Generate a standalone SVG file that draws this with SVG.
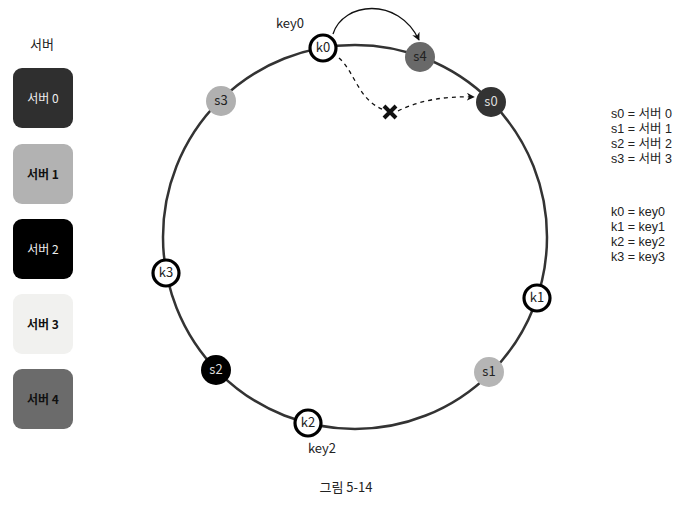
<svg xmlns="http://www.w3.org/2000/svg" width="694" height="521" viewBox="0 0 694 521">
<defs>
<marker id="ah" viewBox="0 0 10 10" refX="9" refY="5" markerWidth="8" markerHeight="8" orient="auto" markerUnits="userSpaceOnUse"><path d="M0,0 L10,5 L0,10 L3,5 Z" fill="#111"/></marker>
</defs>
<style>
text{font-family:"Noto Sans CJK KR","Noto Sans",sans-serif;}
.lbl{font-size:13px;fill:#222;}
.box text{font-size:12px;text-anchor:middle;}
.key circle{fill:#fff;stroke:#000;stroke-width:3.2;}
.key text{font-size:13px;fill:#222;text-anchor:middle;}
.srv text{font-size:13px;text-anchor:middle;}
.leg text{font-family:"Liberation Sans","Noto Sans CJK KR",sans-serif;font-size:12.5px;fill:#222;}
</style>
<rect width="694" height="521" fill="#fff"/>
<text class="lbl" x="42" y="49" text-anchor="middle">서버</text>
<g id="box0" class="box"><rect x="13" y="68" width="60" height="60" rx="9" fill="#2f2f2f"/><text x="43" y="103" fill="#eee">서버 0</text></g>
<g id="box1" class="box"><rect x="13" y="144" width="60" height="60" rx="9" fill="#b2b2b2"/><text x="43" y="179" fill="#111" font-weight="bold">서버 1</text></g>
<g id="box2" class="box"><rect x="13" y="219" width="60" height="60" rx="9" fill="#000"/><text x="43" y="254" fill="#eee">서버 2</text></g>
<g id="box3" class="box"><rect x="13" y="294" width="60" height="60" rx="9" fill="#f1f1ef"/><text x="43" y="329" fill="#111" font-weight="bold">서버 3</text></g>
<g id="box4" class="box"><rect x="13" y="369" width="60" height="60" rx="9" fill="#6b6b6b"/><text x="43" y="404" fill="#111" font-weight="bold">서버 4</text></g>
<g id="connectors" fill="none">
<circle cx="355" cy="237" r="192" stroke="#333" stroke-width="2.5"/>
<path d="M333,34 C343,2 398,-4 419,40" stroke="#111" stroke-width="1.3" marker-end="url(#ah)"/>
<path d="M339,58 C355,72 358,100 384,110" stroke="#111" stroke-width="1.3" stroke-dasharray="4,4"/>
<path d="M398,111 C420,100 445,96 474,97" stroke="#111" stroke-width="1.3" stroke-dasharray="4,4" marker-end="url(#ah)"/>
<path d="M384,106 L396,118 M396,106 L384,118" stroke="#111" stroke-width="4"/>
</g>
<g id="s0" class="srv"><circle cx="491" cy="102" r="15" fill="#333"/><text x="491" y="106" fill="#ddd">s0</text></g>
<g id="s1" class="srv"><circle cx="489" cy="372" r="15" fill="#b5b5b5"/><text x="489" y="376" fill="#222">s1</text></g>
<g id="s2" class="srv"><circle cx="216" cy="370" r="15" fill="#000"/><text x="216" y="374" fill="#ddd">s2</text></g>
<g id="s3" class="srv"><circle cx="221" cy="101" r="15" fill="#b0b0b0"/><text x="221" y="105" fill="#222">s3</text></g>
<g id="s4" class="srv"><circle cx="420" cy="57" r="15" fill="#696969"/><text x="420" y="61" fill="#222">s4</text></g>
<g id="k0" class="key"><circle cx="323" cy="48" r="13"/><text x="323" y="52">k0</text></g>
<g id="k1" class="key"><circle cx="537" cy="298" r="13"/><text x="537" y="302">k1</text></g>
<g id="k2" class="key"><circle cx="308" cy="423" r="13"/><text x="308" y="427">k2</text></g>
<g id="k3" class="key"><circle cx="166" cy="273" r="13"/><text x="166" y="277">k3</text></g>
<text class="lbl" x="290" y="28" text-anchor="middle">key0</text>
<text class="lbl" x="322" y="453" text-anchor="middle">key2</text>
<g class="leg">
<text x="611" y="118">s0 = 서버 0</text>
<text x="611" y="133">s1 = 서버 1</text>
<text x="611" y="148">s2 = 서버 2</text>
<text x="611" y="163">s3 = 서버 3</text>
<text x="611" y="216">k0 = key0</text>
<text x="611" y="231">k1 = key1</text>
<text x="611" y="246">k2 = key2</text>
<text x="611" y="261">k3 = key3</text>
</g>
<text class="lbl" x="346" y="492" text-anchor="middle" font-size="14">그림 5-14</text>
</svg>
